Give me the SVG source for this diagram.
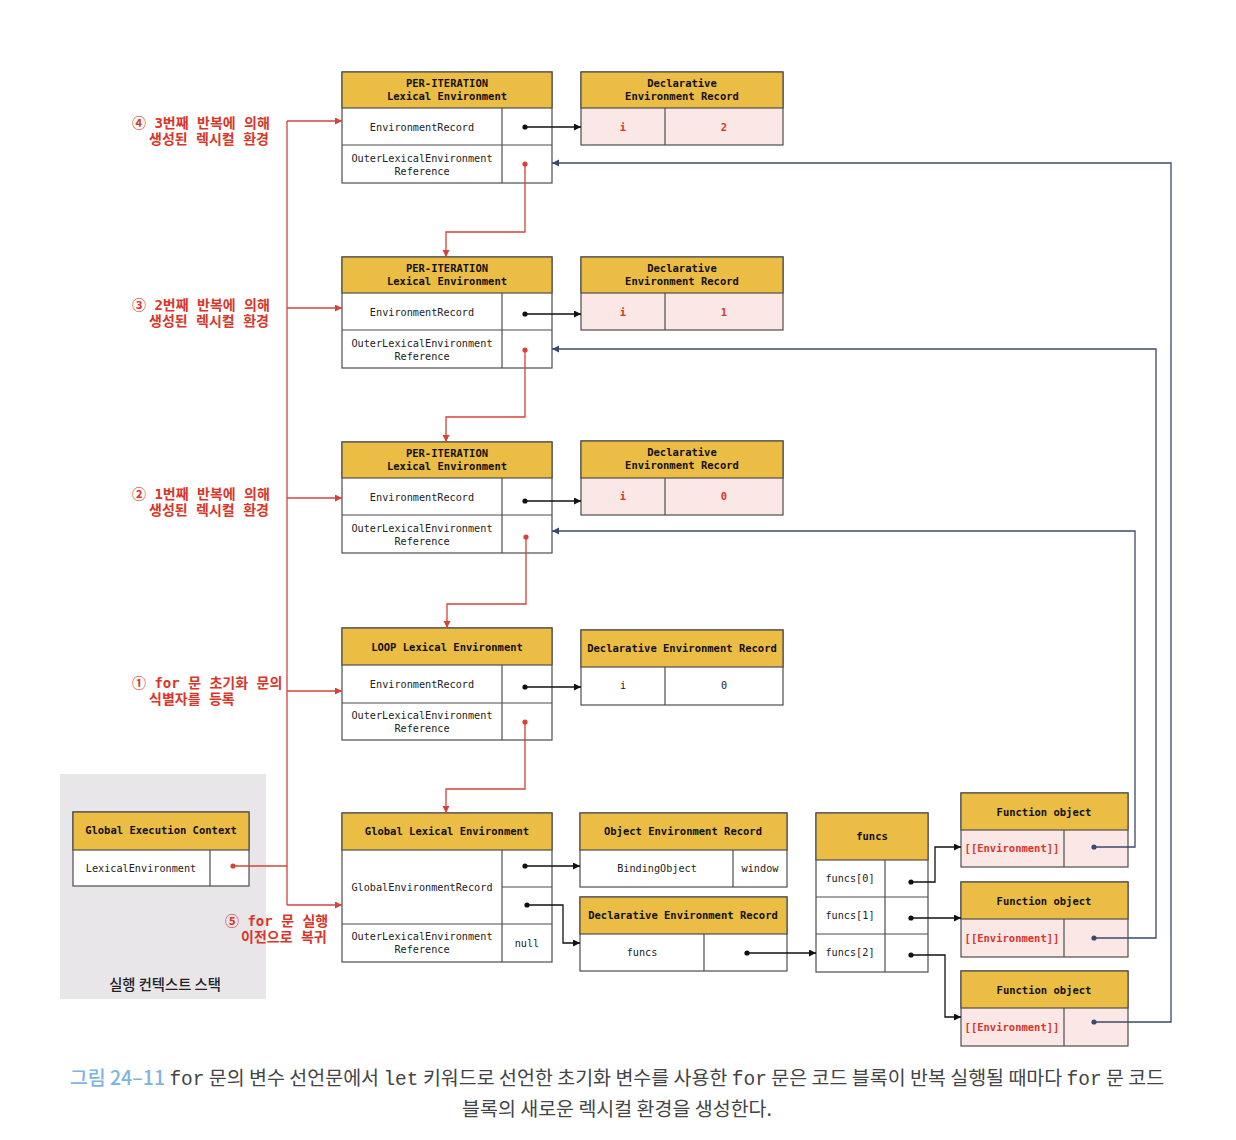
<svg xmlns="http://www.w3.org/2000/svg" width="1236" height="1140" viewBox="0 0 1236 1140">
<style>
.box{fill:#fff;stroke:#4d4d4d;stroke-width:1.2}
.hd{fill:#ECBD45;stroke:#4d4d4d;stroke-width:1.2}
.pk{fill:#FBE8E6;stroke:#4d4d4d;stroke-width:1.2}
.ln{stroke:#4d4d4d;stroke-width:1.2;fill:none}
.t{font-family:"DejaVu Sans Mono","Liberation Mono",monospace;font-size:10.2px;fill:#222;text-anchor:middle}
.th{font-family:"DejaVu Sans Mono","Liberation Mono",monospace;font-size:10.5px;font-weight:bold;fill:#111;text-anchor:middle}
.tr{font-family:"DejaVu Sans Mono","Liberation Mono",monospace;font-size:10.5px;font-weight:bold;fill:#D9362B;text-anchor:middle}
.lbl{font-family:"DejaVu Sans Mono","Noto Sans CJK KR",monospace;font-size:14px;font-weight:bold;fill:#D9362B}
.red{stroke:#D8403A;stroke-width:1.3;fill:none}
.blk{stroke:#111;stroke-width:1.3;fill:none}
.nav{stroke:#3B4A6B;stroke-width:1.3;fill:none}
.cap{font-family:"Noto Sans CJK KR","Noto Sans",sans-serif;font-size:19.5px;fill:#444;text-anchor:middle}
.mono{font-family:"Liberation Mono","DejaVu Sans Mono",monospace}
</style>
<defs>
<marker id="ar" markerUnits="userSpaceOnUse" markerWidth="8" markerHeight="8" refX="7" refY="3.5" orient="auto"><path d="M0,0 L7,3.5 L0,7 z" fill="#D8403A"/></marker>
<marker id="ab" markerUnits="userSpaceOnUse" markerWidth="8" markerHeight="8" refX="7" refY="3.5" orient="auto"><path d="M0,0 L7,3.5 L0,7 z" fill="#111"/></marker>
<marker id="an" markerUnits="userSpaceOnUse" markerWidth="8" markerHeight="8" refX="7" refY="3.5" orient="auto"><path d="M0,0 L7,3.5 L0,7 z" fill="#3B4A6B"/></marker>
</defs>
<rect width="1236" height="1140" fill="#fff"/>

<!-- Execution context stack -->
<g id="stack">
<rect x="60" y="774" width="206" height="225" fill="#E8E6E8"/>
<text x="165" y="990" font-family="Noto Sans CJK KR,sans-serif" font-size="14.3" font-weight="500" fill="#222" text-anchor="middle">실행 컨텍스트 스택</text>
</g>
<g id="gec">
<rect class="box" x="73" y="812" width="176" height="74"/>
<rect class="hd" x="73" y="812" width="176" height="38"/>
<line class="ln" x1="210" y1="850" x2="210" y2="886"/>
<text class="th" x="161" y="834">Global Execution Context</text>
<text class="t" x="141" y="872">LexicalEnvironment</text>
</g>

<!-- Per-iteration 3 -->
<g id="pi3">
<rect class="box" x="342" y="72" width="210" height="111"/>
<rect class="hd" x="342" y="72" width="210" height="36"/>
<line class="ln" x1="342" y1="145" x2="552" y2="145"/>
<line class="ln" x1="502" y1="108" x2="502" y2="183"/>
<text class="th" x="447" y="87">PER-ITERATION</text>
<text class="th" x="447" y="100">Lexical Environment</text>
<text class="t" x="422" y="130.5">EnvironmentRecord</text>
<text class="t" x="422" y="161.5">OuterLexicalEnvironment</text>
<text class="t" x="422" y="174.5">Reference</text>
</g>
<g id="der3">
<rect class="pk" x="581" y="72" width="202" height="73"/>
<rect class="hd" x="581" y="72" width="202" height="36"/>
<line class="ln" x1="665" y1="108" x2="665" y2="145"/>
<text class="th" x="682" y="87">Declarative</text>
<text class="th" x="682" y="100">Environment Record</text>
<text class="tr" x="623" y="130.5">i</text>
<text class="tr" x="724" y="130.5">2</text>
</g>

<!-- Per-iteration 2 -->
<g id="pi2">
<rect class="box" x="342" y="257" width="210" height="111"/>
<rect class="hd" x="342" y="257" width="210" height="36"/>
<line class="ln" x1="342" y1="330" x2="552" y2="330"/>
<line class="ln" x1="502" y1="293" x2="502" y2="368"/>
<text class="th" x="447" y="272">PER-ITERATION</text>
<text class="th" x="447" y="285">Lexical Environment</text>
<text class="t" x="422" y="315.5">EnvironmentRecord</text>
<text class="t" x="422" y="346.5">OuterLexicalEnvironment</text>
<text class="t" x="422" y="359.5">Reference</text>
</g>
<g id="der2">
<rect class="pk" x="581" y="257" width="202" height="73"/>
<rect class="hd" x="581" y="257" width="202" height="36"/>
<line class="ln" x1="665" y1="293" x2="665" y2="330"/>
<text class="th" x="682" y="272">Declarative</text>
<text class="th" x="682" y="285">Environment Record</text>
<text class="tr" x="623" y="316">i</text>
<text class="tr" x="724" y="316">1</text>
</g>

<!-- Per-iteration 1 -->
<g id="pi1">
<rect class="box" x="342" y="442" width="210" height="111"/>
<rect class="hd" x="342" y="442" width="210" height="36"/>
<line class="ln" x1="342" y1="515" x2="552" y2="515"/>
<line class="ln" x1="502" y1="478" x2="502" y2="553"/>
<text class="th" x="447" y="457">PER-ITERATION</text>
<text class="th" x="447" y="470">Lexical Environment</text>
<text class="t" x="422" y="500.5">EnvironmentRecord</text>
<text class="t" x="422" y="531.5">OuterLexicalEnvironment</text>
<text class="t" x="422" y="544.5">Reference</text>
</g>
<g id="der1">
<rect class="pk" x="581" y="441" width="202" height="74"/>
<rect class="hd" x="581" y="441" width="202" height="37"/>
<line class="ln" x1="665" y1="478" x2="665" y2="515"/>
<text class="th" x="682" y="456">Declarative</text>
<text class="th" x="682" y="469">Environment Record</text>
<text class="tr" x="623" y="500">i</text>
<text class="tr" x="724" y="500">0</text>
</g>

<!-- LOOP -->
<g id="loop">
<rect class="box" x="342" y="628" width="210" height="112"/>
<rect class="hd" x="342" y="628" width="210" height="37"/>
<line class="ln" x1="342" y1="703" x2="552" y2="703"/>
<line class="ln" x1="502" y1="665" x2="502" y2="740"/>
<text class="th" x="447" y="650.5">LOOP Lexical Environment</text>
<text class="t" x="422" y="687.5">EnvironmentRecord</text>
<text class="t" x="422" y="718.5">OuterLexicalEnvironment</text>
<text class="t" x="422" y="731.5">Reference</text>
</g>
<g id="derl">
<rect class="box" x="581" y="630" width="202" height="75"/>
<rect class="hd" x="581" y="630" width="202" height="37"/>
<line class="ln" x1="665" y1="667" x2="665" y2="705"/>
<text class="th" x="682" y="652">Declarative Environment Record</text>
<text class="t" x="623" y="689">i</text>
<text class="t" x="724" y="689">0</text>
</g>

<!-- Global Lexical Environment -->
<g id="gle">
<rect class="box" x="342" y="813" width="210" height="149"/>
<rect class="hd" x="342" y="813" width="210" height="37"/>
<line class="ln" x1="502" y1="887" x2="552" y2="887"/>
<line class="ln" x1="342" y1="924" x2="552" y2="924"/>
<line class="ln" x1="502" y1="850" x2="502" y2="962"/>
<text class="th" x="447" y="835">Global Lexical Environment</text>
<text class="t" x="422" y="890.5">GlobalEnvironmentRecord</text>
<text class="t" x="422" y="939.5">OuterLexicalEnvironment</text>
<text class="t" x="422" y="952.5">Reference</text>
<text class="t" x="527" y="946.5">null</text>
</g>
<g id="oer">
<rect class="box" x="580" y="813" width="207" height="74"/>
<rect class="hd" x="580" y="813" width="207" height="37"/>
<line class="ln" x1="733" y1="850" x2="733" y2="887"/>
<text class="th" x="683" y="835">Object Environment Record</text>
<text class="t" x="657" y="872">BindingObject</text>
<text class="t" x="760" y="872">window</text>
</g>
<g id="derg">
<rect class="box" x="580" y="897" width="207" height="74"/>
<rect class="hd" x="580" y="897" width="207" height="37"/>
<line class="ln" x1="704" y1="934" x2="704" y2="971"/>
<text class="th" x="683" y="919">Declarative Environment Record</text>
<text class="t" x="642" y="956">funcs</text>
</g>

<!-- funcs -->
<g id="funcs">
<rect class="box" x="816" y="813" width="112" height="159"/>
<rect class="hd" x="816" y="813" width="112" height="47"/>
<line class="ln" x1="816" y1="897" x2="928" y2="897"/>
<line class="ln" x1="816" y1="934" x2="928" y2="934"/>
<line class="ln" x1="885" y1="860" x2="885" y2="972"/>
<text class="th" x="872" y="840">funcs</text>
<text class="t" x="850" y="881.5">funcs[0]</text>
<text class="t" x="850" y="918.5">funcs[1]</text>
<text class="t" x="850" y="956">funcs[2]</text>
</g>

<!-- Function objects -->
<g id="fo1">
<rect class="pk" x="961" y="793" width="167" height="74"/>
<rect class="hd" x="961" y="793" width="167" height="37"/>
<line class="ln" x1="1064" y1="830" x2="1064" y2="867"/>
<text class="th" x="1044" y="815.5">Function object</text>
<text class="tr" x="1012" y="852">[[Environment]]</text>
</g>
<g id="fo2">
<rect class="pk" x="961" y="882" width="167" height="75"/>
<rect class="hd" x="961" y="882" width="167" height="37"/>
<line class="ln" x1="1064" y1="919" x2="1064" y2="957"/>
<text class="th" x="1044" y="904.5">Function object</text>
<text class="tr" x="1012" y="941.5">[[Environment]]</text>
</g>
<g id="fo3">
<rect class="pk" x="961" y="971" width="167" height="75"/>
<rect class="hd" x="961" y="971" width="167" height="37"/>
<line class="ln" x1="1064" y1="1008" x2="1064" y2="1046"/>
<text class="th" x="1044" y="993.5">Function object</text>
<text class="tr" x="1012" y="1030.5">[[Environment]]</text>
</g>

<!-- Labels -->
<g id="labels">
<text class="lbl" x="132" y="128">④ 3번째 반복에 의해</text>
<text class="lbl" x="149" y="144">생성된 렉시컬 환경</text>
<text class="lbl" x="132" y="310">③ 2번째 반복에 의해</text>
<text class="lbl" x="149" y="326">생성된 렉시컬 환경</text>
<text class="lbl" x="132" y="499">② 1번째 반복에 의해</text>
<text class="lbl" x="149" y="515">생성된 렉시컬 환경</text>
<text class="lbl" x="132" y="688">① for 문 초기화 문의</text>
<text class="lbl" x="149" y="704">식별자를 등록</text>
<text class="lbl" x="225" y="926">⑤ for 문 실행</text>
<text class="lbl" x="241" y="942">이전으로 복귀</text>
</g>

<!-- Connectors -->
<g id="connectors">
<path class="red" d="M233 866 H287"/>
<path class="red" d="M287 121 V905"/>
<path class="red" d="M287 121 H342" marker-end="url(#ar)"/>
<path class="red" d="M287 308 H342" marker-end="url(#ar)"/>
<path class="red" d="M287 498 H342" marker-end="url(#ar)"/>
<path class="red" d="M287 691 H342" marker-end="url(#ar)"/>
<path class="red" d="M287 905 H342" marker-end="url(#ar)"/>
<path class="red" d="M525 164 V232 H446 V257" marker-end="url(#ar)"/>
<path class="red" d="M525 350 V417 H446 V442" marker-end="url(#ar)"/>
<path class="red" d="M526 537 V604 H447 V628" marker-end="url(#ar)"/>
<path class="red" d="M525 722 V789 H446 V813" marker-end="url(#ar)"/>
<g fill="#D8403A">
<circle cx="233" cy="866" r="2.6"/><circle cx="525" cy="164" r="2.6"/><circle cx="525" cy="350" r="2.6"/><circle cx="526" cy="537" r="2.6"/><circle cx="525" cy="722" r="2.6"/>
</g>

<path class="blk" d="M525 127 H581" marker-end="url(#ab)"/>
<path class="blk" d="M525 314 H581" marker-end="url(#ab)"/>
<path class="blk" d="M525 501 H581" marker-end="url(#ab)"/>
<path class="blk" d="M525 687 H581" marker-end="url(#ab)"/>
<path class="blk" d="M525 866 H580" marker-end="url(#ab)"/>
<path class="blk" d="M527 905 H563 V943 H580" marker-end="url(#ab)"/>
<path class="blk" d="M747 953 H816" marker-end="url(#ab)"/>
<path class="blk" d="M911 882 H935 V847 H961" marker-end="url(#ab)"/>
<path class="blk" d="M911 918 H961" marker-end="url(#ab)"/>
<path class="blk" d="M911 955 H945 V1017 H961" marker-end="url(#ab)"/>
<g fill="#111">
<circle cx="525" cy="127" r="2.6"/><circle cx="525" cy="314" r="2.6"/><circle cx="525" cy="501" r="2.6"/><circle cx="525" cy="687" r="2.6"/><circle cx="525" cy="866" r="2.6"/><circle cx="527" cy="905" r="2.6"/><circle cx="747" cy="953" r="2.6"/><circle cx="911" cy="882" r="2.6"/><circle cx="911" cy="918" r="2.6"/><circle cx="911" cy="955" r="2.6"/>
</g>

<path class="nav" d="M1094 847 H1135 V531 H552" marker-end="url(#an)"/>
<path class="nav" d="M1094 938 H1156 V349 H552" marker-end="url(#an)"/>
<path class="nav" d="M1094 1022 H1171 V163 H552" marker-end="url(#an)"/>
<g fill="#3B4A6B">
<circle cx="1094" cy="847" r="2.6"/><circle cx="1094" cy="938" r="2.6"/><circle cx="1094" cy="1022" r="2.6"/>
</g>
</g>

<!-- Caption -->
<g id="caption">
<text class="cap" x="617" y="1085"><tspan fill="#7DB5E0" font-weight="500">그림 24–11</tspan> <tspan class="mono">for</tspan> 문의 변수 선언문에서 <tspan class="mono">let</tspan> 키워드로 선언한 초기화 변수를 사용한 <tspan class="mono">for</tspan> 문은 코드 블록이 반복 실행될 때마다 <tspan class="mono">for</tspan> 문 코드</text>
<text class="cap" x="617" y="1116">블록의 새로운 렉시컬 환경을 생성한다.</text>
</g>
</svg>
